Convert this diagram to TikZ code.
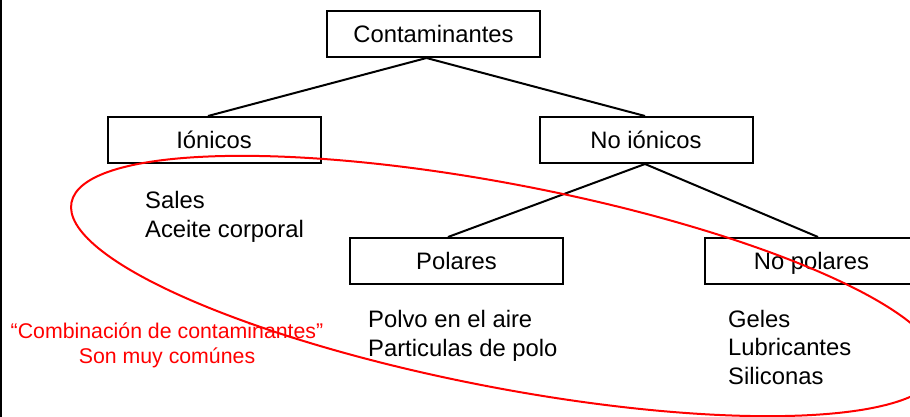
\documentclass[tikz,border=0pt]{standalone}
\usepackage{fontspec}
\setmainfont{Liberation Sans}
\begin{document}
\begin{tikzpicture}[x=1pt,y=-1pt,
  box/.style={draw, line width=2pt, minimum width=213pt, minimum height=46pt, inner sep=0pt,
    text height=17.5pt, text depth=0pt, font=\fontsize{23.8pt}{28.5pt}\selectfont},
  itemlist/.style={anchor=base west, align=left, inner sep=0pt, font=\fontsize{23.8pt}{28.5pt}\selectfont},
  conn/.style={line width=2pt},
  note/.style={text=red, align=center, inner sep=0pt, anchor=base, font=\fontsize{21.3pt}{25pt}\selectfont},
  ring/.style={draw=red, line width=2pt}]
\useasboundingbox (0,0) rectangle (910,417);
\begin{scope}
\clip (0,0) rectangle (910,417);
\draw[line width=2pt] (1,0) -- (1,417);
\node[box] (cont) at (433.5,34) {Contaminantes};
\node[box] (ion) at (214,140) {Iónicos};
\node[box] (noion) at (646,140) {No iónicos};
\node[box] (pol) at (456.5,261) {Polares};
\node[box] (nopol) at (811.5,261) {No polares};
\draw[conn] ([xshift=-7pt]cont.south) -- ([xshift=-6pt]ion.north);
\draw[conn] ([xshift=-7pt]cont.south) -- ([xshift=-1pt]noion.north);
\draw[conn] ([xshift=-1pt]noion.south) -- ([xshift=-8.5pt]pol.north);
\draw[conn] ([xshift=-1pt]noion.south) -- ([xshift=6.5pt]nopol.north);
\node[itemlist] (l1) at (145,237) {Sales\\Aceite corporal};
\node[itemlist] (l2) at (368,356) {Polvo en el aire\\Particulas de polo};
\node[itemlist] (l3) at (728,384) {Geles\\Lubricantes\\Siliconas};
\node[note] (n1) at (167,363) {“Combinación de contaminantes”\\Son muy comúnes};
\draw[ring, rotate around={-10.9:(505,286)}] (505,286) ellipse [x radius=441.5pt, y radius=101.7pt];
\end{scope}
\end{tikzpicture}
\end{document}
